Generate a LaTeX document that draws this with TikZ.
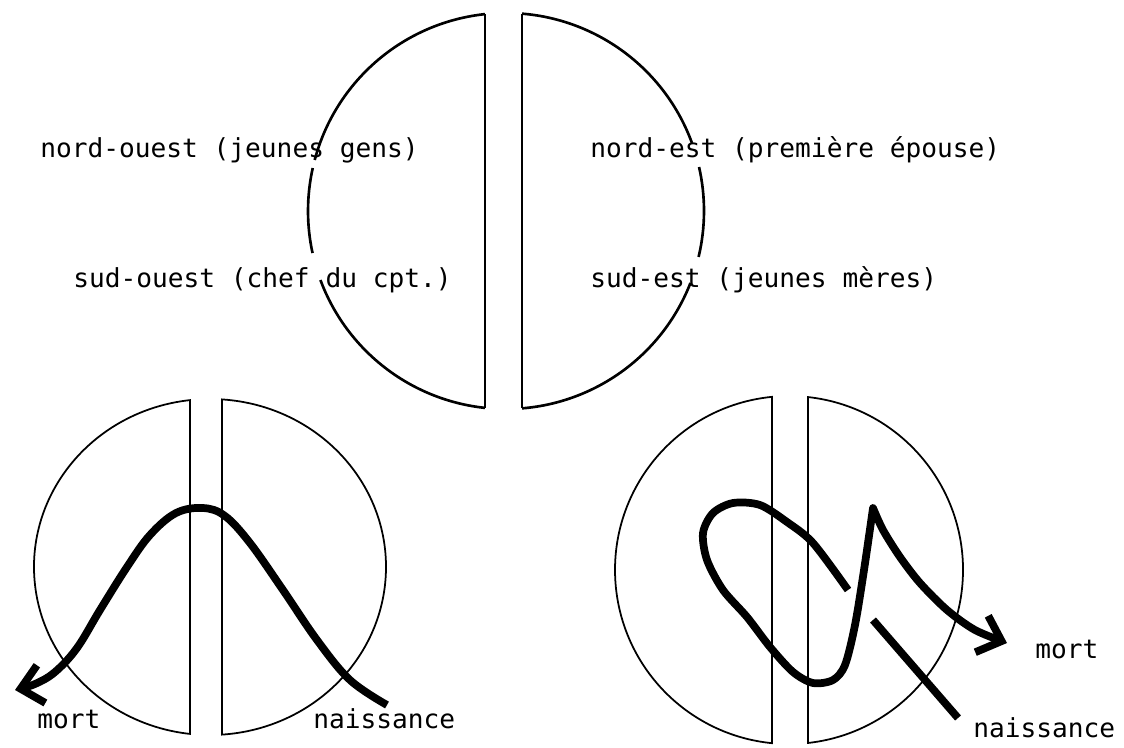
\documentclass[tikz,border=0pt]{standalone}
\usepackage{fontspec}
\newfontfamily\gothic{DejaVu Sans Mono}
\usetikzlibrary{arrows.meta}

\begin{document}
\begin{tikzpicture}[
  x=0.02cm, y=-0.02cm,
  rim/.style={draw, line width=1.5pt},
  thinrim/.style={draw, line width=1pt},
  zone/.style={anchor=base west, inner sep=0pt, font=\gothic\fontsize{14.9pt}{18pt}\selectfont},
  life/.style={line width=4.4pt, line join=round},
  death/.style={-{Straight Barb[length=12pt, width=22pt]}},
]
  \useasboundingbox (0,0) rectangle (1124,747);

  % Top circle, split in two halves
  \coordinate (T) at (506,211);
  \draw[rim] (485,14) -- (485,408);
  \draw[rim] (522,14) -- (522,408);
  \draw[rim] (T) ++(263.91:198) arc[start angle=263.91, end angle=194.93, radius=198];
  \draw[rim] (T) ++(192.54:198) arc[start angle=192.54, end angle=167.75, radius=198];
  \draw[rim] (T) ++(159.60:198) arc[start angle=159.60, end angle=96.09, radius=198];
  \draw[rim] (T) ++(-85.36:198) arc[start angle=-85.36, end angle=-20.09, radius=198];
  \draw[rim] (T) ++(-12.84:198) arc[start angle=-12.84, end angle=13.43, radius=198];
  \draw[rim] (T) ++(21.32:198) arc[start angle=21.32, end angle=85.36, radius=198];

  % Quarters
  \node[zone] (nw) at (40,157) {nord-ouest (jeunes gens)};
  \node[zone] (sw) at (73,287) {sud-ouest (chef du cpt.)};
  \node[zone] (ne) at (590,157) {nord-est (première épouse)};
  \node[zone] (se) at (590,287) {sud-est (jeunes mères)};

  % Bottom left circle
  \coordinate (L) at (210,567);
  \draw[thinrim] (L) ++(263.48:176 and 168) arc[start angle=263.48, end angle=96.52, x radius=176, y radius=168] -- cycle;
  \draw[thinrim] (L) ++(-86.09:176 and 168) arc[start angle=-86.09, end angle=86.09, x radius=176, y radius=168] -- cycle;

  % Bottom right circle
  \coordinate (R) at (789,570);
  \draw[thinrim] (R) ++(264.39:174) arc[start angle=264.39, end angle=95.61, radius=174] -- cycle;
  \draw[thinrim] (R) ++(-83.73:174) arc[start angle=-83.73, end angle=83.73, radius=174] -- cycle;

  % Labels
  \node[zone] (mortL) at (37,728) {mort};
  \node[zone] (naissL) at (313,728) {naissance};
  \node[zone] (mortR) at (1035,658) {mort};
  \node[zone] (naissR) at (973,737) {naissance};

  \coordinate (bL) at (387,705);
  \coordinate (dL) at (15,690);
  \coordinate (bR) at (958,718);
  \coordinate (dR) at (1007,643);

  % Life paths
  \draw[life, death] plot[smooth, tension=0.6] coordinates {(bL) (350,680) (317,640) (283,590) (250,543) (225,516) (203,508) (176,513) (150,535) (127,567) (100,610) (77,648) (55,672) (35,684) (dL)};

  \draw[life] (bR) -- (873,620);
  \draw[life, death] plot[smooth] coordinates {(848,590) (813,543) (787,522) (760,505) (733,503) (713,513) (703,533) (707,560) (723,590) (747,617) (770,647) (793,672) (813,683) (833,680) (845,665) (855,625) (864,570) (873,508)}
    -- plot[smooth] coordinates {(873,508) (883,530) (900,557) (920,583) (947,610) (975,630) (dR)};
\end{tikzpicture}
\end{document}
